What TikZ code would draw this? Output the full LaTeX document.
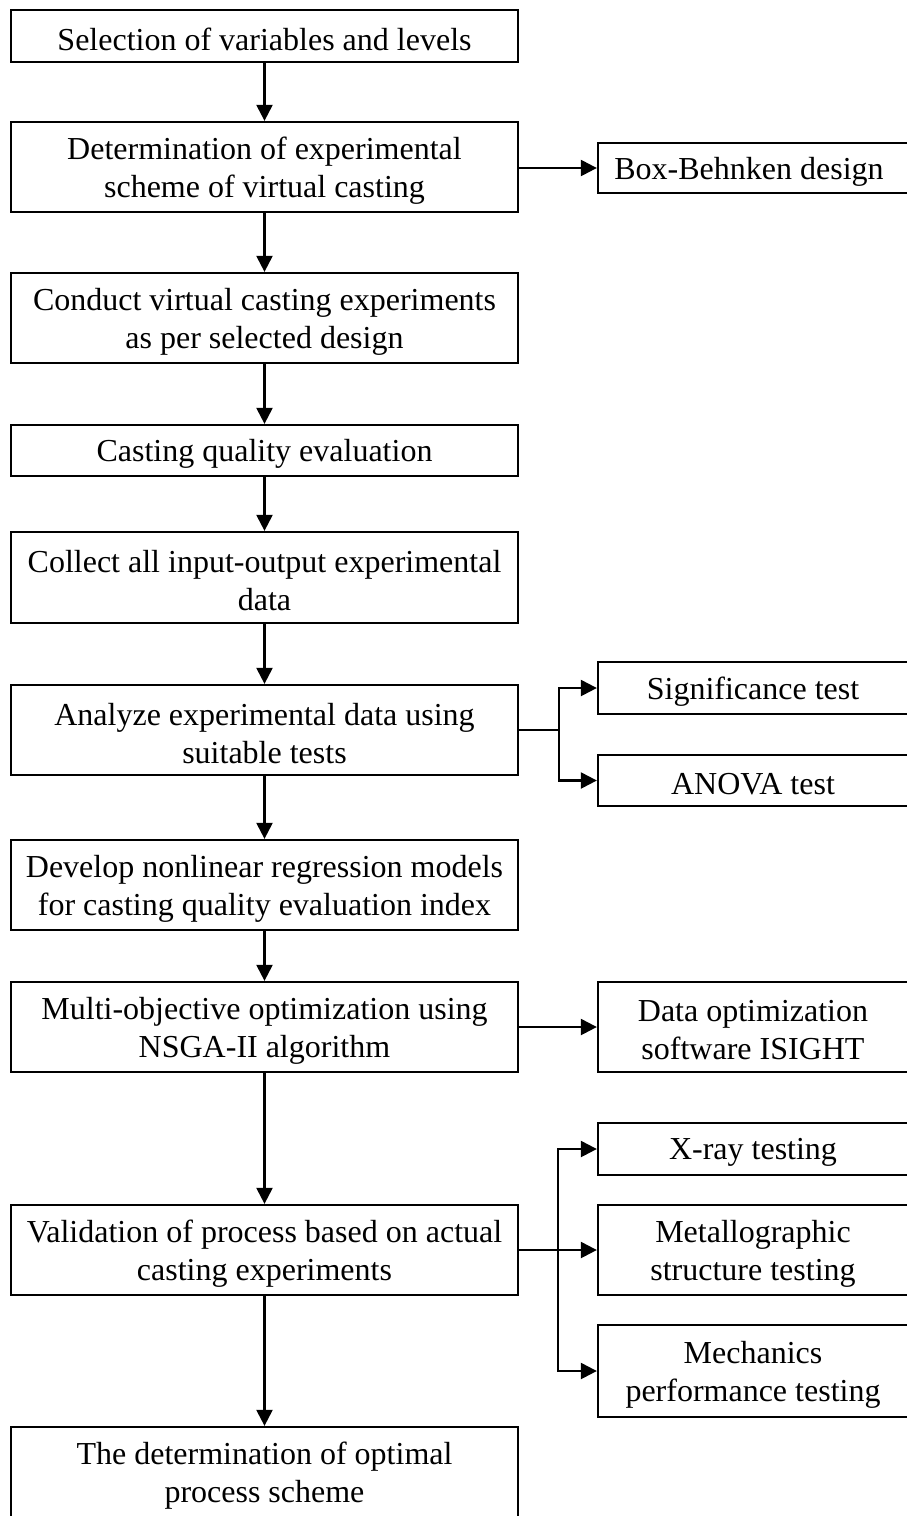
\documentclass[tikz,border=0pt]{standalone}
\usepackage{fontspec}
\setmainfont{Liberation Serif}
\usetikzlibrary{arrows.meta}
\begin{document}
\begin{tikzpicture}[x=1pt,y=-1pt,
  txt/.style={inner sep=0pt,align=center,yshift=-3.5pt,
    font=\fontsize{32}{38}\selectfont},
  box/.style={draw,line width=2.3pt,inner sep=0pt},
  lbox/.style={box,minimum width=507pt},
  rbox/.style={box,minimum width=310pt},
  arr/.style={line width=2.3pt,-{Triangle[length=16pt,width=16pt]}},
  ln/.style={line width=2.3pt}]
\useasboundingbox (0,0) rectangle (906,1516);
\node[lbox,minimum height=52pt,label={[txt]center:{Selection of variables and levels}}] (b1) at (264.5,36) {};
\node[lbox,minimum height=90pt,label={[txt]center:{Determination of experimental\\scheme of virtual casting}}] (b2) at (264.5,167) {};
\node[lbox,minimum height=90pt,label={[txt]center:{Conduct virtual casting experiments\\as per selected design}}] (b3) at (264.5,318) {};
\node[lbox,minimum height=51pt,label={[txt]center:{Casting quality evaluation}}] (b4) at (264.5,450.5) {};
\node[lbox,minimum height=91pt,label={[txt]center:{Collect all input-output experimental\\data}}] (b5) at (264.5,577.5) {};
\node[lbox,minimum height=90pt,label={[txt]center:{Analyze experimental data using\\suitable tests}}] (b6) at (264.5,730) {};
\node[lbox,minimum height=90pt,label={[txt]center:{Develop nonlinear regression models\\for casting quality evaluation index}}] (b7) at (264.5,885) {};
\node[lbox,minimum height=90pt,label={[txt]center:{Multi-objective optimization using\\NSGA-II algorithm}}] (b8) at (264.5,1027) {};
\node[lbox,minimum height=90pt,label={[txt]center:{Validation of process based on actual\\casting experiments}}] (b9) at (264.5,1250) {};
\node[lbox,minimum height=90pt,label={[txt]center:{The determination of optimal\\process scheme}}] (b10) at (264.5,1472) {};
\node[rbox,minimum height=50pt,label={[txt,xshift=-4pt]center:{Box-Behnken design}}] (bb) at (753,168) {};
\node[rbox,minimum height=52pt,label={[txt]center:{Significance test}}] (sig) at (753,688) {};
\node[rbox,minimum height=51pt,label={[txt]center:{ANOVA test}}] (anova) at (753,780.5) {};
\node[rbox,minimum height=90pt,label={[txt]center:{Data optimization\\software ISIGHT}}] (data) at (753,1027) {};
\node[rbox,minimum height=52pt,label={[txt]center:{X-ray testing}}] (xray) at (753,1149) {};
\node[rbox,minimum height=90pt,label={[txt]center:{Metallographic\\structure testing}}] (metal) at (753,1250) {};
\node[rbox,minimum height=92pt,label={[txt]center:{Mechanics\\performance testing}}] (mech) at (753,1371) {};
\foreach \a/\b in {b1/b2,b2/b3,b3/b4,b4/b5,b5/b6,b6/b7,b7/b8,b8/b9,b9/b10}
  \draw[arr] (\a) -- (\b);
\draw[arr] (b2.east |- bb) -- (bb.west);
\draw[ln] (b6.east) -- ++(40,0) coordinate (j6);
\draw[arr] (j6) |- (sig.west);
\draw[arr] (j6) |- (anova.west);
\draw[arr] (b8.east) -- (data.west);
\draw[arr] (b9.east) -- (metal.west);
\coordinate (j9) at (558,1250);
\draw[arr] (j9) |- (xray.west);
\draw[arr] (j9) |- (mech.west);
\end{tikzpicture}
\end{document}
